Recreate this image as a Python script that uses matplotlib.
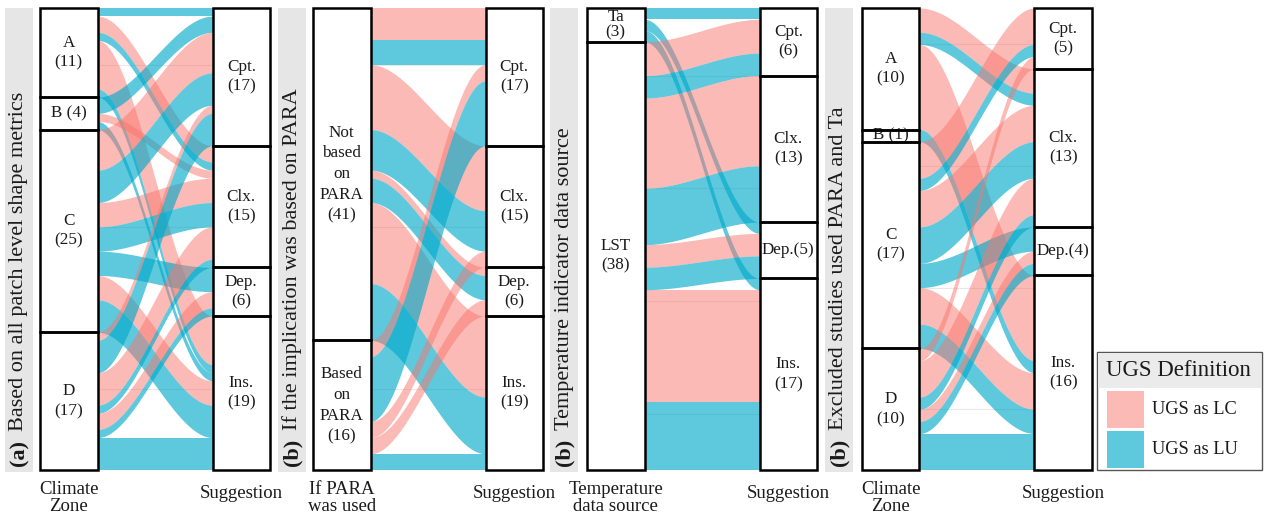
import numpy as np
import matplotlib
matplotlib.use("Agg")
import matplotlib.pyplot as plt
from matplotlib.patches import Rectangle

plt.rcParams["font.family"] = ["Liberation Serif", "DejaVu Serif"]

W, H = 1265, 519          # figure size in pixels (dpi 100)
WID = 1 / 3               # stratum width, as in ggalluvial
DEFS = ["LC", "LU"]
FILL = {"LC": ("#F8766D", 0.5), "LU": ("#00A9C9", 0.63)}
SUGGEST = ["Cpt.", "Clx.", "Dep.", "Ins."]
SUGGEST_FMT = ["Cpt.\n({})", "Clx.\n({})", "Dep.\n({})", "Ins.\n({})"]
SUGGEST_FMT2 = ["Cpt.\n({})", "Clx.\n({})", "Dep.({})", "Ins.\n({})"]

# (a) climate zone -> suggestion, all studies
a_zone = ["A", "B", "C", "D"]
a_from = ["A"] * 5 + ["B"] * 3 + ["C"] * 7 + ["D"] * 7
a_to = ["Cpt.", "Clx.", "Clx.", "Ins.", "Ins.",
        "Cpt.", "Clx.", "Ins.",
        "Cpt.", "Cpt.", "Clx.", "Clx.", "Dep.", "Ins.", "Ins.",
        "Cpt.", "Cpt.", "Clx.", "Clx.", "Dep.", "Dep.", "Ins."]
a_def = ["LU", "LC", "LU", "LC", "LU",
         "LU", "LC", "LU",
         "LC", "LU", "LC", "LU", "LU", "LC", "LU",
         "LC", "LU", "LC", "LU", "LC", "LU", "LU"]
a_n = [1, 2, 1, 6, 1,
       2, 1, 1,
       5, 4, 3, 3, 3, 3, 4,
       1, 4, 4, 1, 2, 1, 4]

# (b) PARA used -> suggestion
b_para = ["Not", "Based"]
b_from = ["Not"] * 8 + ["Based"] * 5
b_to = ["Cpt.", "Cpt.", "Clx.", "Clx.", "Dep.", "Dep.", "Ins.", "Ins.",
        "Cpt.", "Cpt.", "Clx.", "Dep.", "Ins."]
b_def = ["LC", "LU", "LC", "LU", "LC", "LU", "LC", "LU",
         "LC", "LU", "LC", "LC", "LU"]
b_n = [4, 3, 8, 5, 1, 3, 10, 7,
       2, 8, 2, 2, 2]

# (c) temperature data source -> suggestion
c_src = ["Ta", "LST"]
c_from = ["Ta"] * 3 + ["LST"] * 8
c_to = ["Cpt.", "Dep.", "Ins.",
        "Cpt.", "Cpt.", "Clx.", "Clx.", "Dep.", "Dep.", "Ins.", "Ins."]
c_def = ["LU", "LU", "LU",
         "LC", "LU", "LC", "LU", "LC", "LU", "LC", "LU"]
c_n = [1, 1, 1,
       3, 2, 8, 5, 2, 2, 10, 6]

# (d) climate zone -> suggestion, PARA and Ta studies excluded
d_zone = ["A", "B", "C", "D"]
d_from = ["A"] * 3 + ["B"] + ["C"] * 7 + ["D"] * 6
d_to = ["Clx.", "Clx.", "Ins.",
        "Ins.",
        "Cpt.", "Cpt.", "Clx.", "Clx.", "Dep.", "Ins.", "Ins.",
        "Cpt.", "Clx.", "Clx.", "Dep.", "Dep.", "Ins."]
d_def = ["LC", "LU", "LC",
         "LU",
         "LC", "LU", "LC", "LU", "LU", "LC", "LU",
         "LC", "LC", "LU", "LC", "LU", "LU"]
d_n = [2, 1, 7,
       1,
       3, 1, 3, 3, 2, 3, 2,
       1, 3, 1, 1, 1, 3]


def stack_lodes(order, own, other, other_order, defs, n):
    """Stack lodes in each stratum: by stratum on the other axis, then by definition."""
    pos, spans = {}, []
    top = sum(n)
    for s in order:
        ks = [k for k in range(len(n)) if own[k] == s]
        ks.sort(key=lambda k: (other_order.index(other[k]), DEFS.index(defs[k])))
        s_top = top
        for k in ks:
            pos[k] = (top - n[k], top)
            top -= n[k]
        spans.append((top, s_top))
    return pos, spans


def panel(fig, x_box, x_strip, tag, title, left, left_fmt, right_fmt,
          src, dst, defs, n, xlab, grid, lsp=None):
    ax = fig.add_axes([x_box / W, 1 - 470 / H, 230 / W, 462 / H])
    ax.set_xlim(1 - WID / 2, 2 + WID / 2)
    ax.set_ylim(0, sum(n))
    ax.axis("off")
    for g in grid:
        ax.axhline(g, color="#E8E8E8", lw=0.8, zorder=0)

    lpos, lspan = stack_lodes(left, src, dst, SUGGEST, defs, n)
    rpos, rspan = stack_lodes(SUGGEST, dst, src, left, defs, n)
    t = np.linspace(0, 1, 100)
    s = t * t * (3 - 2 * t)
    xs = 1 + WID / 2 + (1 - WID) * t
    for k in range(len(n)):
        (lb, lt), (rb, rt) = lpos[k], rpos[k]
        c, a = FILL[defs[k]]
        ax.fill_between(xs, lb + (rb - lb) * s, lt + (rt - lt) * s,
                        color=c, alpha=a, lw=0, zorder=1)

    lsp = lsp or {}
    for x, spans, fmts in ((1, lspan, left_fmt), (2, rspan, right_fmt)):
        for (b, tp), f in zip(spans, fmts):
            ax.add_patch(Rectangle((x - WID / 2, b), WID, tp - b, fc="white",
                                   ec="none", zorder=2))
            ax.text(x, (b + tp) / 2, f.format(round(tp - b)), ha="center", va="center",
                    fontsize=12.3, color="#1a1a1a", zorder=3,
                    linespacing=lsp.get(f, 1.3))
            ax.add_patch(Rectangle((x - WID / 2, b), WID, tp - b, fill=False,
                                   ec="black", lw=1.8, zorder=4, clip_on=False))

    # strip on the left with the rotated panel title
    fig.add_artist(Rectangle((x_strip / W, 1 - 472 / H), 28 / W, 464 / H,
                             transform=fig.transFigure, fc="#E6E6E6", ec="none"))
    xc = (x_strip + 14) / W
    r = fig.canvas.get_renderer()
    t1 = fig.text(xc, 1 - 466 / H, tag, rotation=90, ha="center", va="bottom",
                  fontsize=16, fontweight="bold", color="#1a1a1a")
    bb = t1.get_window_extent(renderer=r)
    fig.text(xc, (bb.y1 + 9) / H, title, rotation=90, ha="center", va="bottom",
             fontsize=16, color="#1a1a1a")

    fig.text((x_box + 28.75) / W, 1 - 498 / H, xlab, ha="center", va="center",
             fontsize=13.5, linespacing=1.05, color="#1a1a1a")
    fig.text((x_box + 201.25) / W, 1 - 494 / H, "Suggestion", ha="center", va="center",
             fontsize=13.5, color="#1a1a1a")


fig = plt.figure(figsize=(W / 100, H / 100), dpi=100)

zone_fmt = ["A\n({})", "B ({})", "C\n({})", "D\n({})"]
panel(fig, 40, 5, "(a)", "Based on all patch level shape metrics",
      a_zone, zone_fmt, SUGGEST_FMT, a_from, a_to, a_def, a_n,
      "Climate\nZone", [10, 30, 50])
panel(fig, 313, 278, "(b)", "If the implication was based on PARA",
      b_para, ["Not\nbased\non\nPARA\n({})", "Based\non\nPARA\n({})"], SUGGEST_FMT,
      b_from, b_to, b_def, b_n, "If PARA\nwas used", [10, 30, 50],
      lsp={"Not\nbased\non\nPARA\n({})": 1.4, "Based\non\nPARA\n({})": 1.4})
panel(fig, 587, 550, "(b)", "Temperature indicator data source",
      c_src, ["Ta\n({})", "LST\n({})"], SUGGEST_FMT2, c_from, c_to, c_def, c_n,
      "Temperature\ndata source", [5, 15, 25, 35], lsp={"Ta\n({})": 0.95})
panel(fig, 862, 825, "(b)", "Excluded studies used PARA and Ta",
      d_zone, zone_fmt, SUGGEST_FMT2, d_from, d_to, d_def, d_n,
      "Climate\nZone", [5, 15, 25, 35])

# legend
fig.add_artist(Rectangle((1097 / W, 1 - 470 / H), 165 / W, 118 / H, transform=fig.transFigure,
                         fc="white", ec="#555555", lw=1))
fig.add_artist(Rectangle((1098 / W, 1 - 388 / H), 163 / W, 35 / H, transform=fig.transFigure,
                         fc="#EBEBEB", ec="none"))
fig.text(1106 / W, 1 - 371 / H, "UGS Definition", ha="left", va="center",
         fontsize=16.5, color="#1a1a1a")
for i, (key, lab) in enumerate(zip(DEFS, ["UGS as LC", "UGS as LU"])):
    c, a = FILL[key]
    y0 = 391 + 40 * i
    fig.add_artist(Rectangle((1107 / W, 1 - (y0 + 37) / H), 37 / W, 37 / H,
                             transform=fig.transFigure, fc=c, alpha=a, ec="none"))
    fig.text(1152 / W, 1 - (y0 + 19) / H, lab, ha="left", va="center",
             fontsize=13.2, color="#1a1a1a")

fig.savefig("out.png", dpi=100)
